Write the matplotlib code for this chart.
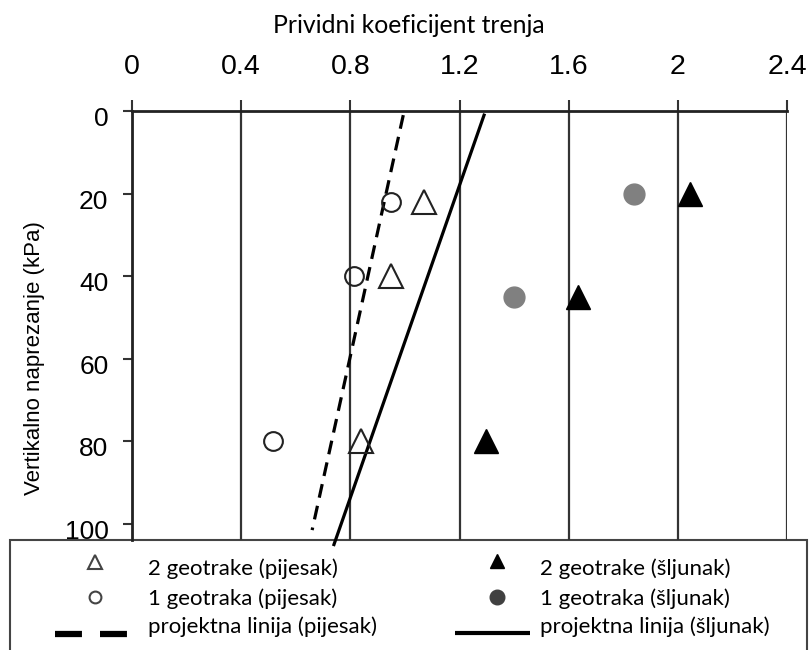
import matplotlib
matplotlib.use("Agg")
import matplotlib.pyplot as plt
from matplotlib.patches import Rectangle
from matplotlib.transforms import ScaledTranslation

plt.rcParams['lines.scale_dashes'] = False

# ---------------- data ----------------
x_ticks = [0, 0.4, 0.8, 1.2, 1.6, 2.0, 2.4]
x_tick_labels = ["0", "0.4", "0.8", "1.2", "1.6", "2", "2.4"]
y_ticks = [0, 20, 40, 60, 80, 100]
y_tick_labels = ["0", "20", "40", "60", "80", "100"]

# 2 geotrake (pijesak) - open triangles
sand2_x = [1.07, 0.95, 0.84]
sand2_y = [22, 40, 80]
# 1 geotraka (pijesak) - open circles
sand1_x = [0.95, 0.815, 0.515]
sand1_y = [22, 40, 80]
# 2 geotrake (šljunak) - filled triangles
grav2_x = [2.045, 1.635, 1.297]
grav2_y = [20, 45, 80]
# 1 geotraka (šljunak) - gray circles
grav1_x = [1.84, 1.40]
grav1_y = [20, 45]
# design lines
design_sand_x = [0.994, 0.66]
design_sand_y = [1, 101.5]
design_grav_x = [1.29, 0.74]
design_grav_y = [1, 105]

legend_labels_left = ["2 geotrake (pijesak)", "1 geotraka (pijesak)", "projektna linija (pijesak)"]
legend_labels_right = ["2 geotrake (šljunak)", "1 geotraka (šljunak)", "projektna linija (šljunak)"]

x_title = "Prividni koeficijent trenja"
y_title = "Vertikalno naprezanje (kPa)"

# ---------------- layout ----------------
W, H = 809, 650
fig = plt.figure(figsize=(W / 100, H / 100), dpi=100)

def fx(px):
    return px / W

def fy(py):
    return 1 - py / H

# legend / overlay axes in pixel coordinates
lax = fig.add_axes([0, 0, 1, 1], zorder=1)
lax.set_xlim(0, W)
lax.set_ylim(H, 0)
lax.axis('off')

ax = fig.add_axes([fx(132), fy(540), fx(787) - fx(132), fy(111) - fy(540)], zorder=2)
ax.patch.set_alpha(0)
ax.set_xlim(0, 2.4)
ax.set_ylim(103.9, 0)

# spines
for s in ['right', 'bottom']:
    ax.spines[s].set_visible(False)
ax.spines['top'].set_linewidth(2.0)
ax.spines['top'].set_color('#222222')
ax.spines['left'].set_linewidth(2.0)
ax.spines['left'].set_color('#222222')

# vertical grid
ax.set_xticks(x_ticks)
ax.set_xticklabels(x_tick_labels)
ax.grid(axis='x', color='#333333', linewidth=1.6)
ax.set_axisbelow(True)

ax.xaxis.tick_top()
ax.tick_params(axis='x', direction='out', length=8, width=1.5, color='#333333',
               pad=14, labelsize=20.5)
for lab in ax.get_xticklabels():
    lab.set_fontfamily(['Liberation Sans', 'DejaVu Sans'])

ax.set_yticks(y_ticks)
ax.set_yticklabels(y_tick_labels)
ax.tick_params(axis='y', direction='out', length=6.5, width=1.5, color='#333333',
               pad=10.5, labelsize=19)
off = ScaledTranslation(0, -4 / 72, fig.dpi_scale_trans)
for lab in ax.get_yticklabels():
    lab.set_fontfamily(['Liberation Sans', 'DejaVu Sans'])
    lab.set_transform(lab.get_transform() + off)

# data
ax.plot(design_sand_x, design_sand_y, color='black', linewidth=2.3,
        dashes=(10, 6), clip_on=False, zorder=3)
ax.plot(design_grav_x, design_grav_y, color='black', linewidth=2.3,
        clip_on=False, zorder=3)
ax.plot(sand2_x, sand2_y, linestyle='none', marker='^', markersize=17,
        markerfacecolor='none', markeredgecolor='#222222', markeredgewidth=1.5, zorder=4)
ax.plot(sand1_x, sand1_y, linestyle='none', marker='o', markersize=13.5,
        markerfacecolor='none', markeredgecolor='#222222', markeredgewidth=1.5, zorder=4)
ax.plot(grav2_x, grav2_y, linestyle='none', marker='^', markersize=17,
        markerfacecolor='black', markeredgecolor='black', zorder=4)
ax.plot(grav1_x, grav1_y, linestyle='none', marker='o', markersize=15,
        markerfacecolor='#808080', markeredgecolor='#808080', zorder=4)

# titles
fig.text(fx(409), fy(33), x_title, ha='center', va='baseline',
         fontsize=17.8, family=['Lato', 'DejaVu Sans'])
fig.text(fx(35), fy(358), y_title, ha='center', va='center', rotation=90,
         fontsize=16, family=['Liberation Sans', 'DejaVu Sans'])

# legend box
lax.add_patch(Rectangle((10, 540), 797, 130, facecolor='white', edgecolor='#444444',
                        linewidth=1.5))
rows = [575, 605, 633]
lfont = dict(fontsize=16, family=['Lato', 'DejaVu Sans'], va='baseline', ha='left')
for lbl, yy in zip(legend_labels_left, rows):
    lax.text(148, yy, lbl, **lfont)
for lbl, yy in zip(legend_labels_right, rows):
    lax.text(540, yy, lbl, **lfont)

lax.plot([95], [562], marker='^', markersize=10, markerfacecolor='none',
         markeredgecolor='#444444', markeredgewidth=1.5, linestyle='none')
lax.plot([95], [597], marker='o', markersize=8.5, markerfacecolor='none',
         markeredgecolor='#444444', markeredgewidth=1.5, linestyle='none')
lax.plot([55, 127], [634, 634], color='black', linewidth=4.5, dashes=(19.4, 13),
         solid_capstyle='butt', dash_capstyle='butt')
lax.plot([497], [561], marker='^', markersize=10, markerfacecolor='black',
         markeredgecolor='black', linestyle='none')
lax.plot([497], [597], marker='o', markersize=10.5, markerfacecolor='#404040',
         markeredgecolor='#404040', linestyle='none')
lax.plot([455, 530], [633, 633], color='black', linewidth=3, solid_capstyle='butt')

fig.savefig('out.png', dpi=100)
